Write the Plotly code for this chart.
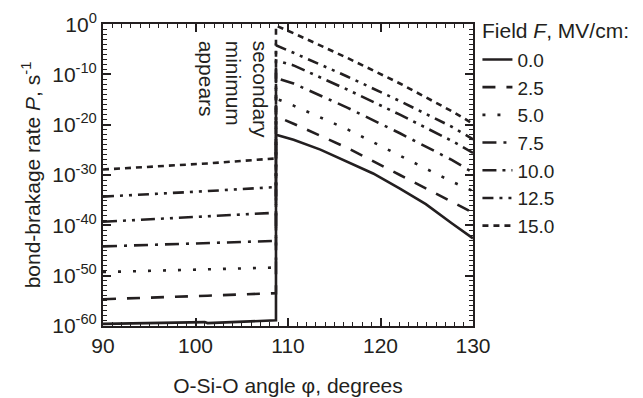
import plotly.graph_objects as go

# ---- data (log10 of bond-breakage rate P, s^-1) ----
fields = ["0.0", "2.5", "5.0", "7.5", "10.0", "12.5", "15.0"]
x_jump = 108.7
left_x = [90, 100.7, 101.0, 101.3, x_jump]
right_x = [x_jump, 110.6, 116.4, 122.1, 127.7, 130]
right_x_F0 = [x_jump, 110.6, 113.5, 116.4, 119.2, 122.1, 124.9, 127.7, 130]

left_F0 = [-59.6, -59.3, -59.25, -59.45, -58.9]
left_F2_5 = [-54.7, -54.1, -54.05, -54.0, -53.5]
left_F5 = [-49.3, -48.8, -48.77, -48.75, -48.4]
left_F7_5 = [-44.2, -43.6, -43.57, -43.55, -43.1]
left_F10 = [-39.3, -38.3, -38.25, -38.2, -37.5]
left_F12_5 = [-34.3, -33.3, -33.25, -33.2, -32.4]
left_F15 = [-28.9, -27.8, -27.75, -27.7, -26.7]

right_F0 = [-22.0, -23.0, -24.95, -27.3, -29.7, -32.7, -35.8, -39.6, -42.6]
right_F2_5 = [-18.3, -19.8, -24.6, -30.0, -35.4, -37.5]
right_F5 = [-14.8, -16.2, -20.9, -26.1, -31.3, -33.2]
right_F7_5 = [-10.7, -11.8, -16.6, -21.7, -27.0, -29.5]
right_F10 = [-7.2, -8.2, -13.0, -18.0, -23.2, -25.6]
right_F12_5 = [-4.2, -5.7, -10.4, -15.3, -20.4, -22.9]
right_F15 = [-0.3, -1.8, -6.7, -11.8, -17.3, -19.8]

left_all = [left_F0, left_F2_5, left_F5, left_F7_5, left_F10, left_F12_5, left_F15]
right_all = [right_F0, right_F2_5, right_F5, right_F7_5, right_F10, right_F12_5, right_F15]
right_xs = [right_x_F0] + [right_x] * 6

dashes = ["solid", "13px,11px", "3px,12px", "14px,7px,3px,7px",
          "14px,6px,3px,6px,3px,6px", "11px,6px,3px,6px,3px,6px", "6px,5px"]

y_major = [0, -10, -20, -30, -40, -50, -60]
y_ticktext = ["10<sup>%d</sup>" % e for e in y_major]

ink = "#231f20"
font = "Liberation Sans, Arial, sans-serif"

fig = go.Figure()
for name, lv, rx, rv, d in zip(fields, left_all, right_xs, right_all, dashes):
    xs = left_x + rx
    ys = [10 ** v for v in lv + rv]
    fig.add_trace(go.Scatter(x=xs, y=ys, mode="lines", name=name,
                             line=dict(color=ink, width=2.6, dash=d)))

fig.update_layout(
    width=643, height=398,
    margin=dict(l=95, r=178, t=16, b=80),
    paper_bgcolor="white", plot_bgcolor="white",
    font=dict(family=font, size=21, color=ink),
    showlegend=True,
    legend=dict(x=1.012, y=0.945, xanchor="left", yanchor="top",
                font=dict(size=19), tracegroupgap=0, itemwidth=30,
                maxheight=390, bgcolor="rgba(0,0,0,0)"),
)
fig.update_xaxes(range=[90, 130], tickmode="linear", tick0=90, dtick=10,
                 ticks="inside", ticklen=8, tickwidth=1.5, tickcolor=ink,
                 minor=dict(dtick=1, ticks="inside", ticklen=4, tickwidth=1, tickcolor=ink),
                 showline=True, linecolor=ink, linewidth=2, mirror="ticks",
                 showgrid=False, zeroline=False, automargin=False,
                 tickfont=dict(size=21),
                 title=dict(text="O-Si-O angle φ, degrees", font=dict(size=21), standoff=22))
fig.update_yaxes(type="log", range=[-60.03, 0.03],
                 tickmode="array", tickvals=[10 ** e for e in y_major], ticktext=y_ticktext,
                 ticks="inside", ticklen=8, tickwidth=1.5, tickcolor=ink,
                 minor=dict(tickmode="array", tickvals=[10 ** (-k) for k in range(61)],
                            ticks="inside", ticklen=4, tickwidth=1, tickcolor=ink),
                 showline=True, linecolor=ink, linewidth=2, mirror="ticks",
                 showgrid=False, zeroline=False, automargin=False,
                 ticklabeloverflow="allow",
                 tickfont=dict(size=21),
                 title=dict(text="bond-brakage rate <i>P</i>, s<sup>-1</sup>", font=dict(size=21), standoff=6))

# legend heading
fig.add_annotation(xref="paper", yref="paper", x=1.02, y=0.978,
                   text="Field <i>F</i>, MV/cm:", showarrow=False,
                   xanchor="left", yanchor="middle", font=dict(size=21, color=ink))

fig.add_annotation(xref="paper", yref="paper", x=0.352, y=0.785,
                   text="secondary<br>minimum<br>appears", textangle=90,
                   showarrow=False, align="left", xanchor="center", yanchor="middle",
                   font=dict(size=21, color=ink))

fig.write_html("out.html")
